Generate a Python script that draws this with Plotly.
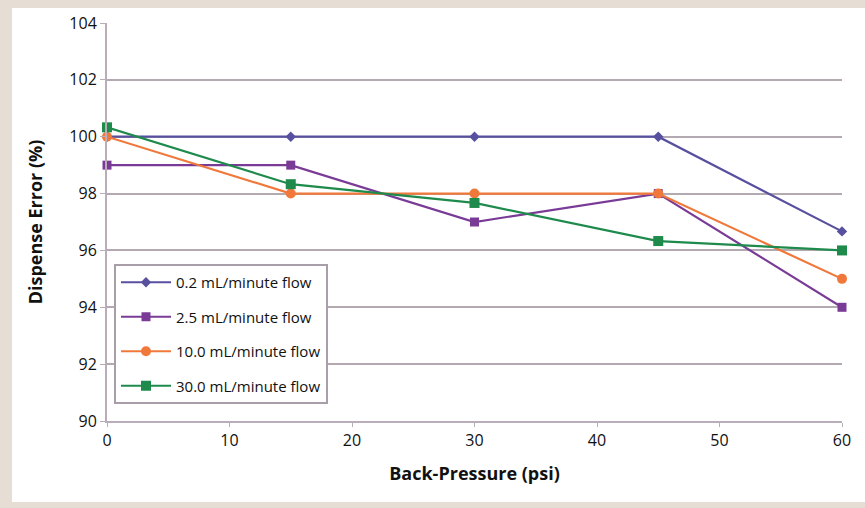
import plotly.graph_objects as go

pressure = [0, 15, 30, 45, 60]
flow_02 = [100, 100, 100, 100, 96.67]
flow_25 = [99, 99, 97, 98, 94]
flow_10 = [100, 98, 98, 98, 95]
flow_30 = [100.33, 98.33, 97.67, 96.33, 96]
series_names = ["0.2 mL/minute flow", "2.5 mL/minute flow", "10.0 mL/minute flow", "30.0 mL/minute flow"]

W, H = 865, 508
ML, MR, MT, MB = 107, 23, 23, 87
BEIGE = "#e6ddd5"

fig = go.Figure()
styles = [
    (flow_02, "#57509f", "diamond", 8),
    (flow_25, "#7a3b96", "square", 9),
    (flow_10, "#f0783a", "circle", 10),
    (flow_30, "#1e8a4c", "square", 10),
]
for i, (name, (vals, col, sym, sz)) in enumerate(zip(series_names, styles)):
    fig.add_trace(go.Scatter(
        x=pressure, y=vals, name=name, mode="lines+markers",
        legendgroup=f"g{i}",
        line=dict(color=col, width=2.2),
        marker=dict(color=col, symbol=sym, size=sz),
        cliponaxis=False,
    ))

def px_x(p):
    return (p - ML) / (W - ML - MR)

def px_y(p):
    return (H - MB - p) / (H - MT - MB)

def beige(x0, y0, x1, y1):
    return dict(type="rect", xref="paper", yref="paper", layer="below",
                x0=px_x(x0), x1=px_x(x1), y0=px_y(y1), y1=px_y(y0),
                fillcolor=BEIGE, line=dict(width=0))

shapes = [
    beige(-5, -5, 12, 515),
    beige(-5, -5, 870, 8),
    beige(-5, 502, 870, 515),
]
fig.update_layout(
    width=W, height=H,
    margin=dict(l=ML, r=MR, t=MT, b=MB),
    paper_bgcolor="white",
    plot_bgcolor="rgba(0,0,0,0)",
    font=dict(family="Open Sans", size=16, color="#111"),
    shapes=shapes,
    showlegend=True,
    legend=dict(
        x=px_x(114), y=px_y(264), xanchor="left", yanchor="top",
        bgcolor="white", bordercolor="#a89ea8", borderwidth=2,
        font=dict(size=15), tracegroupgap=12, itemwidth=50,
    ),
    xaxis=dict(
        range=[0, 60], tickvals=[0, 10, 20, 30, 40, 50, 60],
        showgrid=False, zeroline=False,
        showline=True, linecolor="#b8adb8", linewidth=2,
        ticks="outside", ticklen=4, tickcolor="#b8adb8",
        title=dict(text="<b>Back-Pressure (psi)</b>", font=dict(size=18), standoff=17),
    ),
    yaxis=dict(
        range=[90, 104], tickvals=[90, 92, 94, 96, 98, 100, 102, 104],
        showgrid=True, gridcolor="#b3a9b0", gridwidth=2, zeroline=False,
        showline=True, linecolor="#b8adb8", linewidth=2,
        ticks="outside", ticklen=5, tickcolor="#b8adb8",
        title=dict(text="<b>Dispense Error (%)</b>", font=dict(size=18), standoff=22),
    ),
)
fig.write_html("out.html", config={"displayModeBar": False},
               post_script="document.body.style.margin='0';document.body.style.background='white';")
